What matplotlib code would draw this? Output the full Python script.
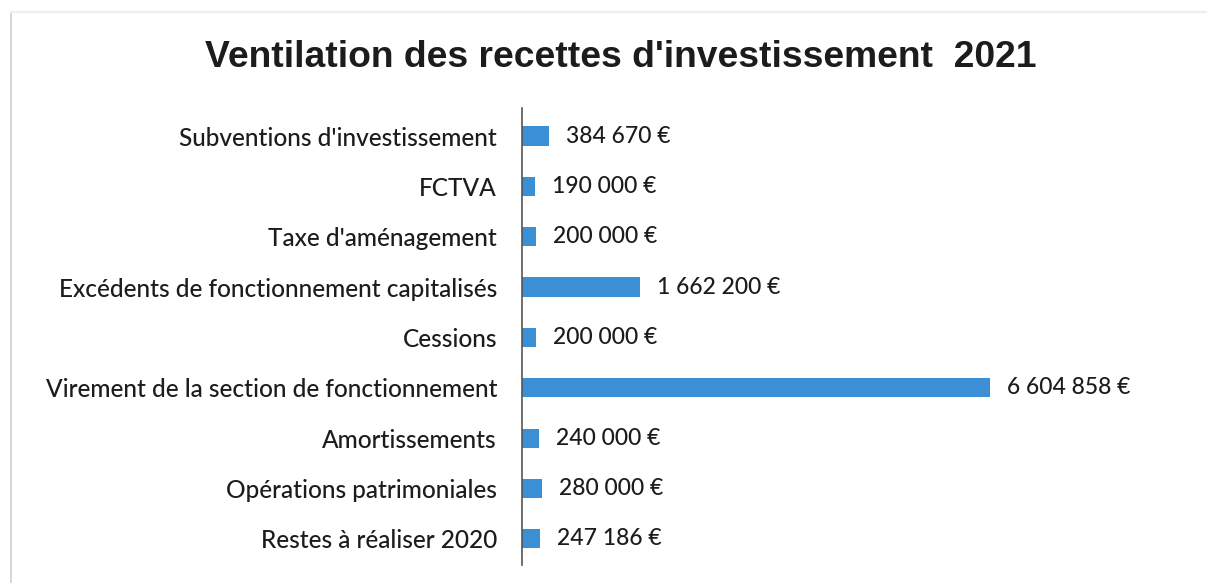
import matplotlib
matplotlib.use("Agg")
import matplotlib.pyplot as plt
from matplotlib.lines import Line2D

CATEGORIES = [
    "Subventions d'investissement",
    "FCTVA",
    "Taxe d'aménagement",
    "Excédents de fonctionnement capitalisés",
    "Cessions",
    "Virement de la section de fonctionnement",
    "Amortissements",
    "Opérations patrimoniales",
    "Restes à réaliser 2020",
]
VALUES = [384670, 190000, 200000, 1662200, 200000, 6604858, 240000, 280000, 247186]
VALUE_LABELS = [
    "384 670 €", "190 000 €", "200 000 €", "1 662 200 €", "200 000 €",
    "6 604 858 €", "240 000 €", "280 000 €", "247 186 €",
]
TITLE = "Ventilation des recettes d'investissement  2021"

BAR_COLOR = "#3b8fd5"
TEXT_COLOR = "#1c1c1c"
LABEL_FONT = ["Lato", "DejaVu Sans"]

fig = plt.figure(figsize=(12.07, 5.83), dpi=100)
ax = fig.add_axes([0.4325, 0.031, 0.545, 0.784])

y = list(range(len(CATEGORIES)))
ax.barh(y, VALUES, height=0.38, color=BAR_COLOR)
ax.set_ylim(len(CATEGORIES) - 0.48, -0.56)
ax.set_xlim(0, 9.29e6)

for yi, v, lbl in zip(y, VALUES, VALUE_LABELS):
    ax.annotate(lbl, (v, yi), xytext=(17, 0), textcoords="offset pixels",
                va="center", ha="left", fontsize=16.5, color=TEXT_COLOR,
                family=LABEL_FONT, fontweight="medium")

ax.set_yticks(y)
ax.set_yticklabels(CATEGORIES, fontsize=17.6, color=TEXT_COLOR, family=LABEL_FONT,
                   fontweight="medium")
ax.tick_params(axis="y", length=0, pad=18)
ax.set_xticks([])
for side in ["top", "right", "bottom"]:
    ax.spines[side].set_visible(False)
ax.spines["left"].set_color("#555555")
ax.spines["left"].set_linewidth(1.2)

fig.text(0.514, 0.885, TITLE, ha="center", va="baseline", fontsize=26.8,
         fontweight="bold", color=TEXT_COLOR, family="Liberation Sans")

# faint frame of the original picture
fig.add_artist(Line2D([0.009, 0.009], [0.0, 0.98], color="#cfcfcf", lw=1.2))
fig.add_artist(Line2D([0.009, 1.0], [0.98, 0.98], color="#eeeeee", lw=1.5))

fig.savefig("out.png", dpi=100)
